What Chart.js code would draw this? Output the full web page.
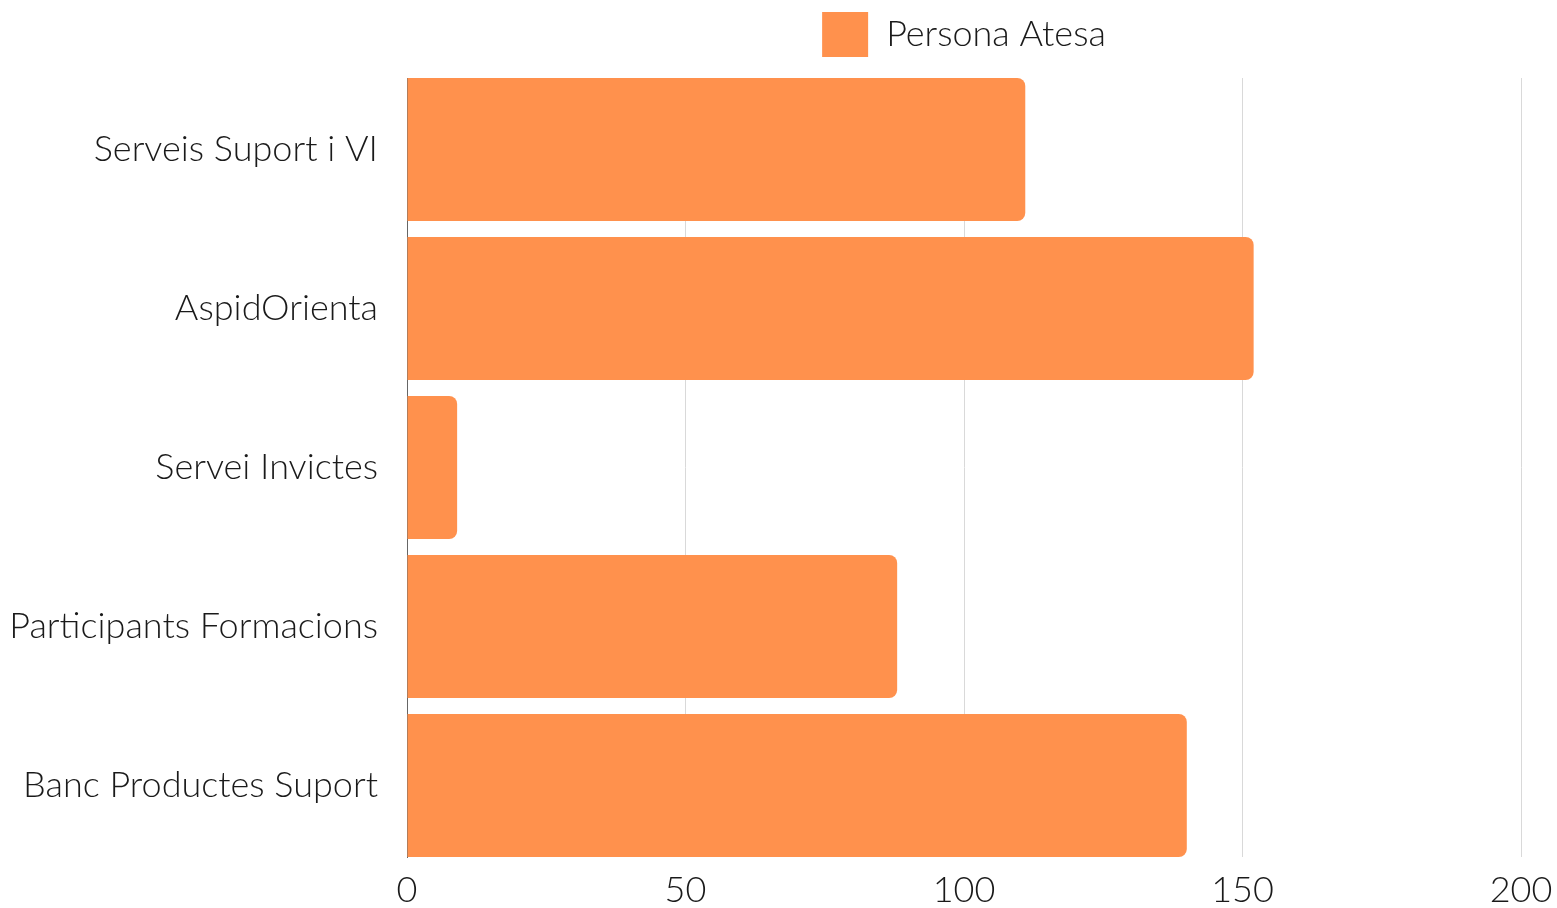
<!DOCTYPE html>
<html>
<head>
<meta charset="utf-8">
<script src="https://cdn.jsdelivr.net/npm/chart.js@4"></script>
<style>
  html, body { margin: 0; padding: 0; background: #fff; }
  #wrap { width: 1557px; height: 908px; }
</style>
</head>
<body>
<div id="wrap"><canvas id="c" width="1557" height="908"></canvas></div>
<script>
const categories = ["Serveis Suport i VI", "AspidOrienta", "Servei Invictes", "Participants Formacions", "Banc Productes Suport"];
const seriesName = "Persona Atesa";
const values = [111, 152, 9, 88, 140];
const xTicks = [0, 50, 100, 150, 200];

const FONT = { family: "Lato", weight: 300, size: 36 };

const legendSpacer = {
  id: 'legendSpacer',
  beforeInit(chart) {
    if (!chart.legend) return;
    const orig = chart.legend.fit;
    chart.legend.fit = function () {
      orig.call(this);
      this.height += 11;
    };
  }
};

new Chart(document.getElementById('c'), {
  type: 'bar',
  data: {
    datasets: [{
      label: seriesName,
      data: values.map((v, i) => ({ x: v, y: i })),
      backgroundColor: '#FF914D',
      borderColor: '#FF914D',
      borderWidth: 0,
      borderRadius: 8,
      categoryPercentage: 0.9,
      barPercentage: 1
    }]
  },
  plugins: [legendSpacer],
  options: {
    indexAxis: 'y',
    responsive: false,
    animation: false,
    layout: { padding: { top: 0, right: 36, left: 0, bottom: 0 } },
    plugins: {
      legend: {
        position: 'top',
        fullSize: false,
        labels: {
          boxWidth: 46,
          boxHeight: 45,
          padding: 12,
          color: '#1a1a1a',
          font: FONT
        }
      },
      tooltip: { enabled: false }
    },
    scales: {
      x: {
        type: 'linear',
        min: xTicks[0],
        max: xTicks[xTicks.length - 1],
        afterBuildTicks: s => { s.ticks = xTicks.map(v => ({ value: v })); },
        afterFit: s => { s.height = 51; s.paddingLeft = 0; s.paddingRight = 0; },
        grid: { color: '#d9d9d9', drawTicks: false, lineWidth: 1 },
        border: { display: false },
        ticks: { color: '#1a1a1a', font: FONT, padding: 12 }
      },
      y: {
        type: 'linear',
        reverse: true,
        offset: false,
        min: -0.45,
        max: categories.length - 0.55,
        afterBuildTicks: s => { s.ticks = categories.map((_, i) => ({ value: i })); },
        afterFit: s => { s.width = 407; s.paddingTop = 0; s.paddingBottom = 0; },
        grid: { display: false },
        border: { display: true, color: '#666', width: 1 },
        ticks: {
          color: '#1a1a1a',
          font: FONT,
          padding: 21,
          callback: v => categories[v] ?? ''
        }
      }
    }
  }
});
</script>
</body>
</html>
